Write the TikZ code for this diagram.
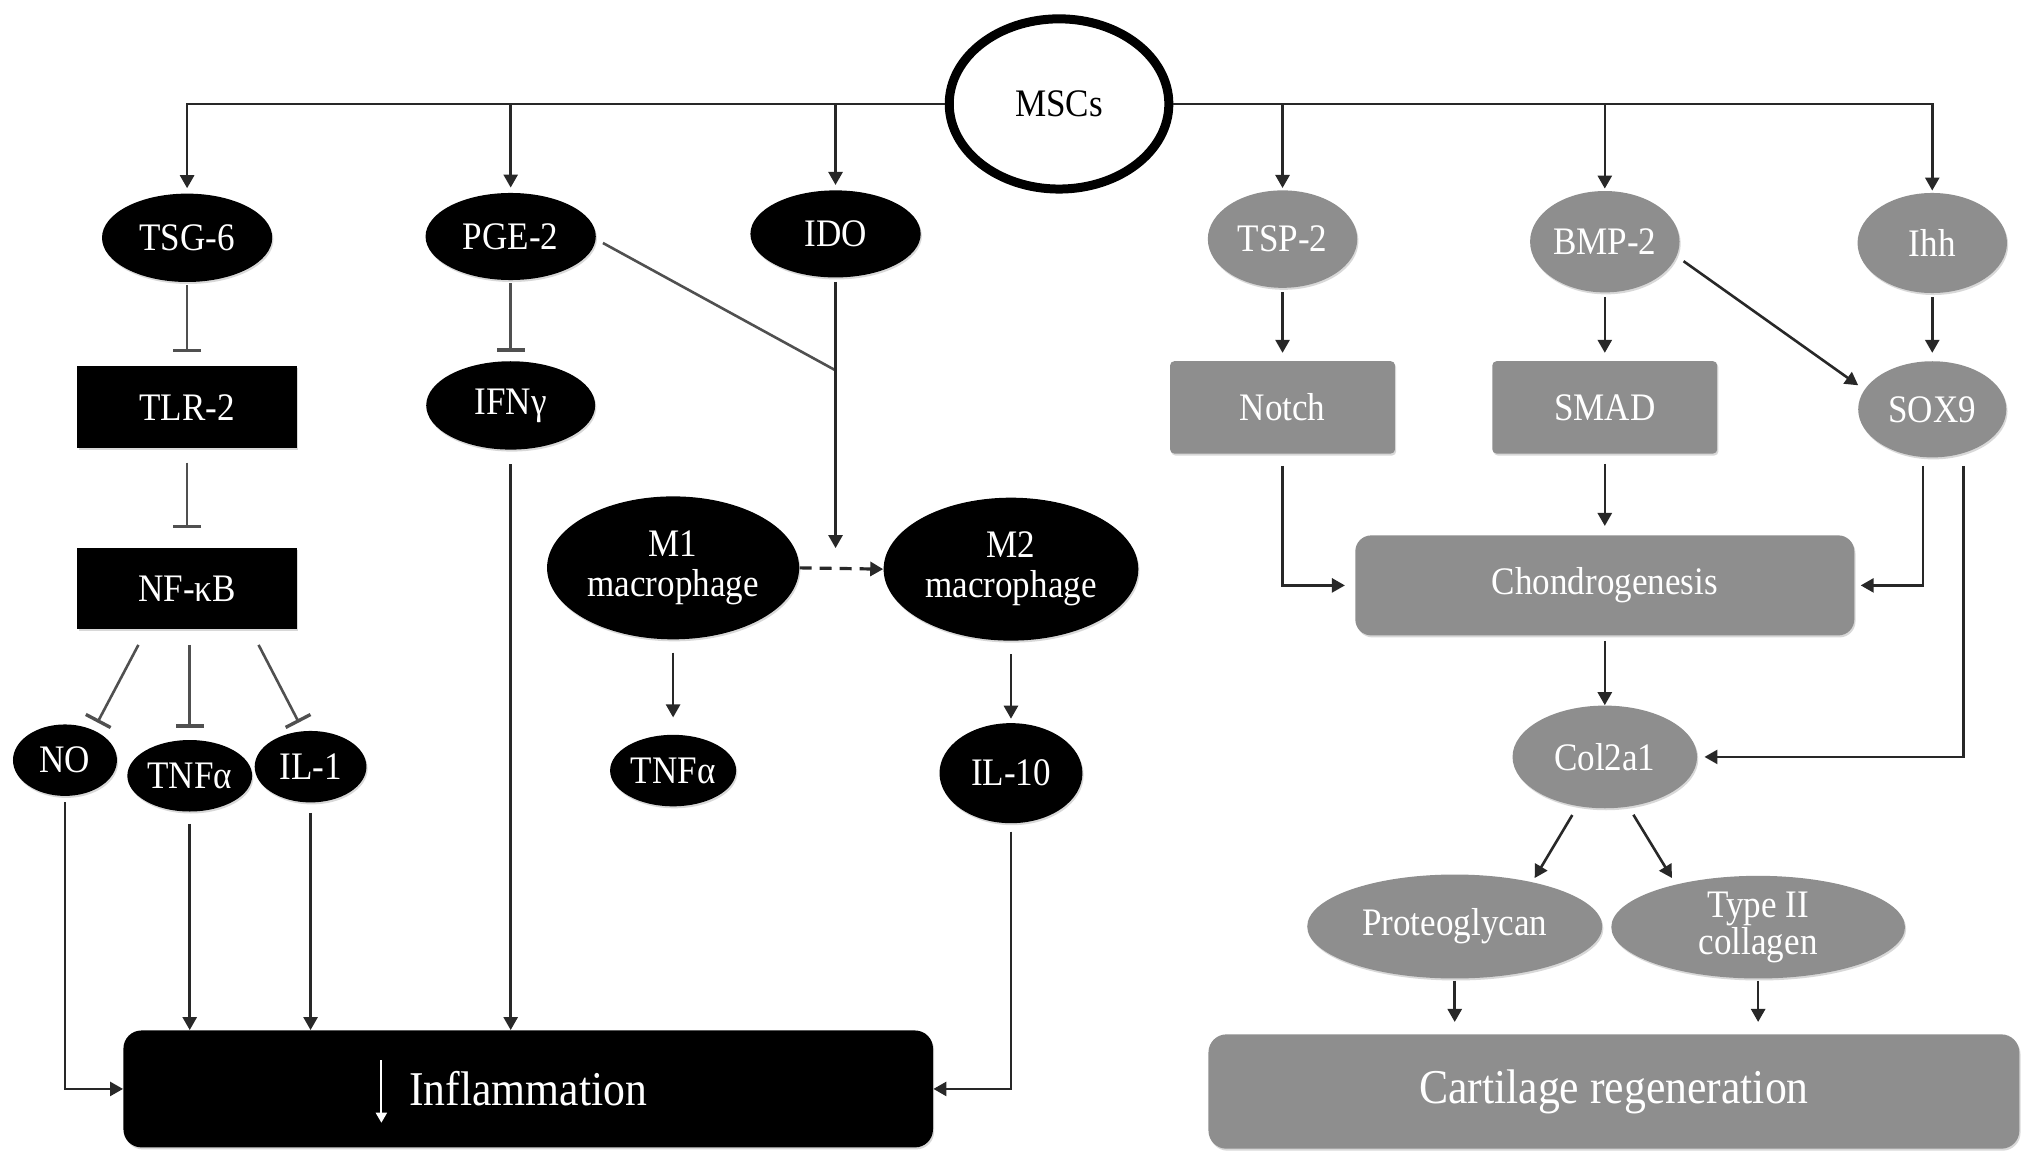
\documentclass[tikz,border=0pt]{standalone}
\usepackage{fontspec}
\setmainfont{Liberation Serif}[FakeStretch=0.9]
\usetikzlibrary{shapes.geometric,arrows.meta,shadows}
\definecolor{gfill}{RGB}{142,142,142}
\definecolor{lnc}{RGB}{40,40,40}
\definecolor{inc}{RGB}{80,80,80}
\def\unitpx{0.65pt}
\begin{document}
\begin{tikzpicture}[x=0.65pt,y=-0.65pt,
  lbl/.style={font=\fontsize{19.5pt}{20pt}\selectfont, align=center},
  big/.style={font=\fontsize{24.3pt}{26pt}\selectfont},
  shd/.style={drop shadow={opacity=0.3,shadow xshift=0.6pt,shadow yshift=-1pt}},
  be/.style 2 args={ellipse, fill=black, text=white, minimum width=#1*\unitpx, minimum height=#2*\unitpx, inner sep=0pt, lbl, shd},
  br/.style 2 args={rectangle, fill=black, text=white, minimum width=#1*\unitpx, minimum height=#2*\unitpx, inner sep=0pt, lbl, shd},
  brr/.style 2 args={rectangle, rounded corners=9pt, fill=black, text=white, minimum width=#1*\unitpx, minimum height=#2*\unitpx, inner sep=0pt, big, shd},
  ge/.style 2 args={ellipse, fill=gfill, text=white, minimum width=#1*\unitpx, minimum height=#2*\unitpx, inner sep=0pt, lbl, shd},
  gr/.style 2 args={rectangle, rounded corners=2pt, fill=gfill, text=white, minimum width=#1*\unitpx, minimum height=#2*\unitpx, inner sep=0pt, lbl, shd},
  grr/.style n args={3}{rectangle, rounded corners=#3, fill=gfill, text=white, minimum width=#1*\unitpx, minimum height=#2*\unitpx, inner sep=0pt, shd},
  mscstyle/.style={ellipse, draw=black, line width=4.5pt, fill=white, text=black, minimum width=169*\unitpx, minimum height=131*\unitpx, inner sep=0pt, lbl},
  conn/.style={draw=lnc, line width=1.3pt},
  arr/.style={conn, -{Triangle[length=6.5pt,width=7pt]}},
  inh/.style={draw=inc, line width=1.3pt, -{Bar[width=14pt,line width=1.7pt]}},
]
\fill[white] (0,0) rectangle (1563,893.5);
\useasboundingbox (0,0) rectangle (1563,893.5);

% ---------- left (black) ----------
\node[mscstyle] (msc) at (815,80) {MSCs};
\node[be={131}{68}] (tsg) at (144,183) {TSG-6};
\node[be={131}{67}] (pge) at (393,182) {PGE-2};
\node[be={131}{67}] (ido) at (643,180) {IDO};
\node[br={169}{63}] (tlr) at (144,313.5) {TLR-2};
\node[be={130}{68}] (ifn) at (393,312) {IFNγ};
\node[br={169}{62}] (nf) at (144,453) {NF-κB};
\node[be={194}{110}] (m1) at (518,437) {M1\\macrophage};
\node[be={196}{110}] (m2) at (778,438) {M2\\macrophage};
\node[be={80}{55}] (no) at (50,585) {NO};
\node[be={96}{55}] (tnfa) at (146,597) {TNFα};
\node[be={86}{55}] (ila) at (239,590) {IL-1};
\node[be={97}{55}] (tnfb) at (518,593) {TNFα};
\node[be={110}{77}] (ilb) at (778,595) {IL-10};
\node[brr={623}{90}] (infl) at (406.5,838) {Inflammation};

% ---------- right (gray) ----------
\node[ge={115}{75}] (tsp) at (987,184) {TSP-2};
\node[ge={115}{78}] (bmp) at (1235,186) {BMP-2};
\node[ge={115}{77}] (ihh) at (1487,187) {Ihh};
\node[gr={173}{71}] (notch) at (987,313.5) {Notch};
\node[gr={173}{71}] (smad) at (1235,313.5) {SMAD};
\node[ge={114}{74}] (sox) at (1487,315) {SOX9};
\node[grr={384}{77}{8pt}, lbl] (chon) at (1235,450.5) {Chondrogenesis};
\node[ge={142}{79}] (col) at (1235,582.5) {Col2a1};
\node[ge={227}{80}] (pro) at (1119.5,713) {Proteoglycan};
\node[ge={226}{79}, font=\fontsize{19.5pt}{18.5pt}\selectfont] (typ) at (1353,713.5) {Type II\\collagen};
\node[grr={624}{88}{9pt}, big] (cart) at (1242,840) {Cartilage regeneration};

% ---------- connectors from MSCs ----------
\draw[arr, shorten >=2.5pt] (msc.west) -| (tsg.north);
\draw[arr, shorten >=2.5pt] (msc.west) -| (pge.north);
\draw[arr, shorten >=2.5pt] (msc.west) -| (ido.north);
\draw[arr, shorten >=1pt] (msc.east) -| (tsp.north);
\draw[arr, shorten >=1pt] (msc.east) -| (bmp.north);
\draw[arr, shorten >=1pt] (msc.east) -| (ihh.north);

% ---------- left pathways ----------
\draw[inh, shorten <=1.5pt, shorten >=7pt] (tsg) -- (tlr);
\draw[inh, shorten <=1.5pt, shorten >=4.5pt] (pge) -- (ifn);
\draw[inh, shorten <=7pt, shorten >=10pt] (tlr) -- (nf);
\draw[inh] ([shift={(-37.5,12)}]nf.south) -- ([shift={(25,-29)}]no.center);
\draw[inh] ([shift={(2,12)}]nf.south) -- ([shift={(0,-37)}]tnfa.center);
\draw[inh] ([shift={(55,12)}]nf.south) -- ([shift={(-9,-34)}]ila.center);

\draw[arr, shorten <=3pt] (no.south) |- (infl.west);
\draw[arr, shorten <=6pt] (tnfa.south) -- (tnfa.south |- infl.north);
\draw[arr, shorten <=5pt] (ila.south) -- (ila.south |- infl.north);
\draw[arr, shorten <=7pt] (ifn.south) -- (ifn.south |- infl.north);
\draw[arr, shorten <=4pt] (ilb.south) |- (infl.east);

\coordinate (jn) at (643,285);
\draw[conn, draw=inc] ([shift={(71,5)}]pge.center) -- (jn);
\draw[arr, shorten <=2pt] (ido.south) -- ++(0,208);
\draw[arr, line width=1.6pt, dash pattern=on 6pt off 4pt] (m1.east) -- (m2.west);
\draw[arr, shorten <=6.5pt, shorten >=8.5pt] (m1.south) -- (tnfb.north);
\draw[arr, shorten <=6.5pt, shorten >=2pt] (m2.south) -- (ilb.north);

% inflammation down-arrow
\draw[white, line width=1pt, -{Triangle[length=5pt,width=5.5pt]}] ([shift={(-113,-22)}]infl.center) -- ([shift={(-113,26)}]infl.center);

% ---------- right pathways ----------
\draw[arr, shorten <=2pt, shorten >=4pt] (tsp) -- (notch);
\draw[arr, shorten <=2pt, shorten >=4pt] (bmp) -- (smad);
\draw[arr, shorten <=2pt, shorten >=4pt] (ihh) -- (sox);
\draw[arr] ([shift={(60.6,15)}]bmp.center) -- ([shift={(-57,-18.5)}]sox.center);
\draw[arr, shorten <=6pt, shorten >=5pt] (notch.south) |- (chon.west);
\draw[arr, shorten <=5pt, shorten >=4.5pt] (smad.south) -- (chon.north);
\draw[arr, shorten <=4pt, shorten >=3pt] ([xshift=-4.6pt]sox.south) |- (chon.east);
\draw[arr, shorten <=4pt, shorten >=3.5pt] ([xshift=15.6pt]sox.south) |- (col.east);
\draw[arr, shorten <=2.5pt] (chon.south) -- (col.north);
\draw[arr] ([shift={(-25,44.7)}]col.center) -- ([shift={(61.5,-37.3)}]pro.center);
\draw[arr] ([shift={(22,44.5)}]col.center) -- ([shift={(-66.3,-37.8)}]typ.center);
\draw[arr, shorten <=1pt, shorten >=6pt] (pro.south) -- (pro.south |- cart.north);
\draw[arr, shorten <=1pt, shorten >=6pt] (typ.south) -- (typ.south |- cart.north);
\end{tikzpicture}
\end{document}
